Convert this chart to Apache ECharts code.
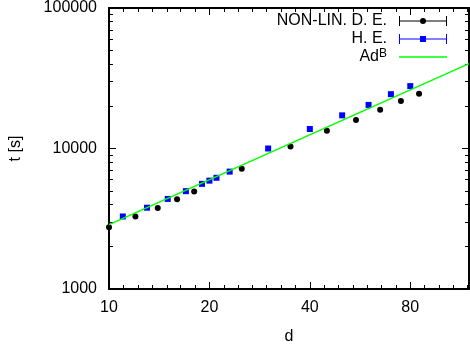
<!DOCTYPE html>
<html><head><meta charset="utf-8">
<script src="https://cdn.jsdelivr.net/npm/echarts@6/dist/echarts.min.js"></script>
<style>html,body{margin:0;padding:0;background:#fff}#c{width:470px;height:350px}</style>
</head><body><div id="c"></div>
<script>
// NON-LIN. D. E. points
const nlD = [10, 12, 14, 16, 18, 25, 35, 45, 55, 65, 75, 85];
const nlT = [2752, 3282, 3768, 4353, 4943, 7180, 10325, 13400, 15980, 18870, 21780, 24490];
// H. E. points
const heD = [11, 13, 15, 17, 19, 20, 21, 23, 30, 40, 50, 60, 70, 80];
const heT = [3282, 3790, 4375, 4972, 5600, 5905, 6190, 6845, 10000, 13770, 17220, 20420, 24360, 27800];
// fit Ad^B (end points of the straight log-log line)
const fitD = [10, 120];
const fitT = [2871, 40180];
// ticks
const xMajor = [10, 20, 40, 80];
const xMinor = [11.0, 12.2, 13.5, 14.9, 16.4, 18.1, 22.1, 24.4, 26.9, 29.7, 32.8, 36.2,
                44.2, 48.8, 53.8, 59.4, 65.6, 72.4, 88.3, 97.5, 107.7, 118.9];
const yMajor = [1000, 10000, 100000];
const yMinor = [2000, 3000, 4000, 5000, 6000, 7000, 8000, 9000,
                20000, 30000, 40000, 50000, 60000, 70000, 80000, 90000];
const names = ['NON-LIN. D. E.', 'H. E.', 'Ad^B'];

const FONT = 'Liberation Sans, Arial, sans-serif';
const zip = (a, b) => a.map((v, i) => [v, b[i]]);
const lineSt = {color: '#000', width: 2};

function xAx(pos, ticks, len, labels, line) {
  return {
    type: 'log', logBase: 2, min: 10, max: 120, position: pos,
    axisLine: {show: line, onZero: false, lineStyle: lineSt},
    axisTick: {show: true, inside: true, length: len, customValues: ticks, lineStyle: {color: '#000', width: 1}},
    axisLabel: {show: labels, customValues: ticks, formatter: v => String(Math.round(v)),
                fontSize: 16, color: '#000', fontFamily: FONT, margin: 11},
    splitLine: {show: false}, minorTick: {show: false},
    name: labels ? 'd' : '', nameLocation: 'middle', nameGap: 40,
    nameTextStyle: {fontSize: 16, color: '#000', fontFamily: FONT}
  };
}
function yAx(pos, ticks, len, labels, line) {
  return {
    type: 'log', logBase: 10, min: 1000, max: 100000, position: pos,
    axisLine: {show: line, onZero: false, lineStyle: lineSt},
    axisTick: {show: true, inside: true, length: len, customValues: ticks, lineStyle: {color: '#000', width: 1}},
    axisLabel: {show: labels, customValues: ticks, formatter: v => String(Math.round(v)),
                fontSize: 16, color: '#000', fontFamily: FONT, margin: 12},
    splitLine: {show: false}, minorTick: {show: false},
    name: labels ? 't [s]' : '', nameLocation: 'middle', nameGap: 85,
    nameTextStyle: {fontSize: 16, color: '#000', fontFamily: FONT}
  };
}

const errIcon = 'path://M0,0H1V10H0Z M0,4.5H48V5.5H0Z M47,0H48V10H47Z M24,2A3,3 0 1,1 24,8A3,3 0 1,1 24,2Z';
const heIcon = 'path://M0,0H1V10H0Z M0,4.5H48V5.5H0Z M47,0H48V10H47Z M21,2H27V8H21Z';
const lnIcon = 'path://M0,0H48V1.5H0Z';

const chart = echarts.init(document.getElementById('c'), null, {renderer: 'canvas'});
chart.setOption({
  animation: false,
  backgroundColor: '#fff',
  textStyle: {fontFamily: FONT},
  grid: {left: 103, right: 1, top: 7, bottom: 55, containLabel: false},
  xAxis: [xAx('bottom', xMajor, 7, true, true), xAx('top', xMajor, 7, false, true),
          xAx('bottom', xMinor, 4, false, false), xAx('top', xMinor, 4, false, false)],
  yAxis: [yAx('left', yMajor, 7, true, true), yAx('right', yMajor, 7, false, true),
          yAx('left', yMinor, 4, false, false), yAx('right', yMinor, 4, false, false)],
  legend: {
    orient: 'vertical', right: 23, top: 12, padding: 0, itemGap: 0, align: 'right',
    itemWidth: 48, itemHeight: 10, selectedMode: false,
    textStyle: {fontSize: 16, color: '#000', fontFamily: FONT, padding: [0, 7, 0, 0], lineHeight: 18,
      rich: {n: {fontSize: 16, fontFamily: FONT, color: '#000', lineHeight: 18},
             s: {fontSize: 12, fontFamily: FONT, color: '#000', verticalAlign: 'top', lineHeight: 12, padding: [0, 0, 6, 0]}}},
    formatter: n => n === 'Ad^B' ? '{n|Ad}{s|B}' : n,
    data: [{name: names[0], icon: errIcon}, {name: names[1], icon: heIcon}, {name: names[2], icon: lnIcon}]
  },
  series: [
    {name: names[0], type: 'scatter', xAxisIndex: 0, yAxisIndex: 0, data: zip(nlD, nlT),
     symbol: 'circle', symbolSize: 6, itemStyle: {color: '#000', opacity: 1}},
    {name: names[1], type: 'scatter', xAxisIndex: 0, yAxisIndex: 0, data: zip(heD, heT),
     symbol: 'rect', symbolSize: 6, itemStyle: {color: '#0000ff', opacity: 1}},
    {name: names[2], type: 'line', xAxisIndex: 0, yAxisIndex: 0, data: zip(fitD, fitT),
     showSymbol: false, symbol: 'none', lineStyle: {color: '#00ff00', width: 1.5}, itemStyle: {color: '#00ff00'}, z: 3}
  ]
});
</script></body></html>
